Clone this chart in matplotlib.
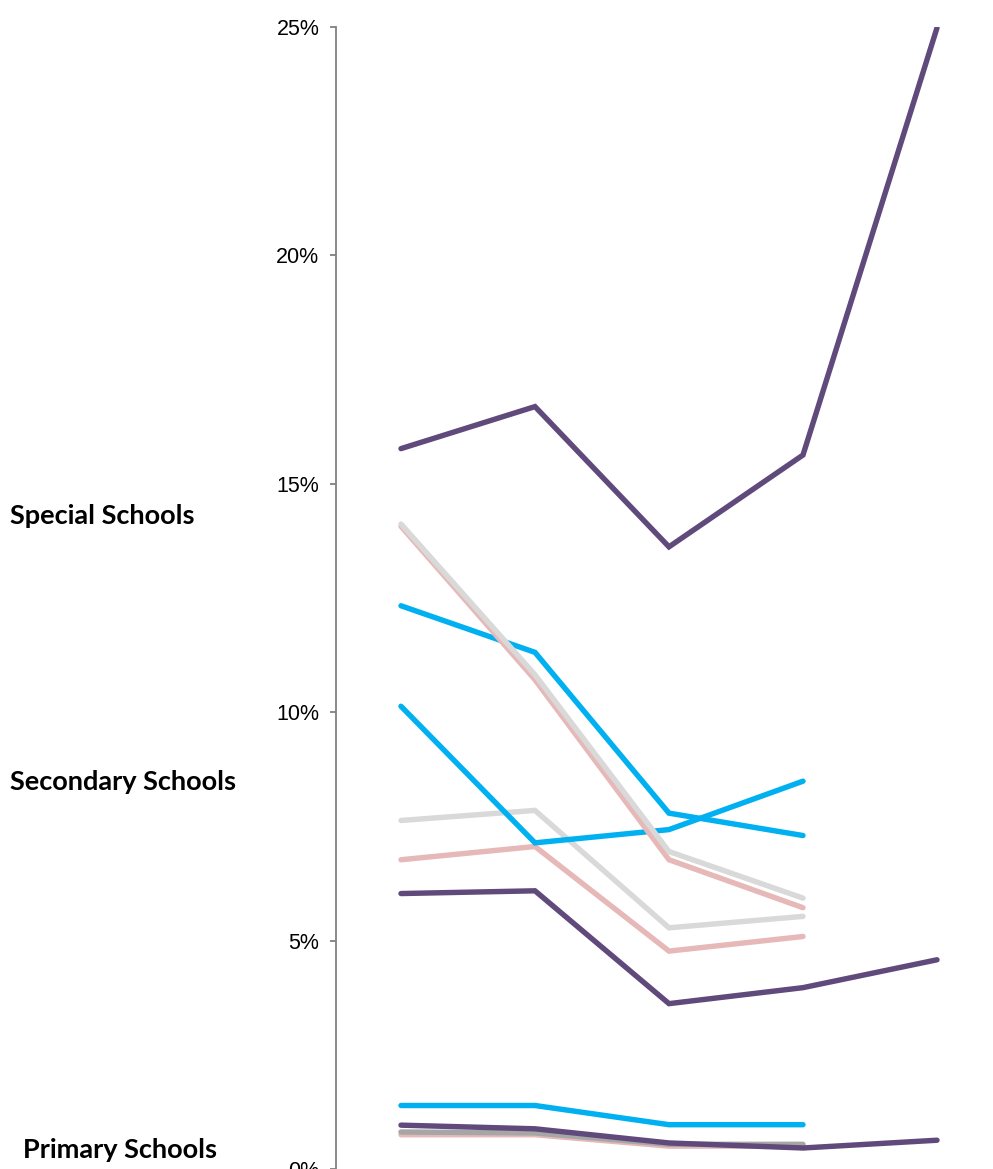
import matplotlib
matplotlib.use("Agg")
import matplotlib.pyplot as plt
from matplotlib.ticker import PercentFormatter

# Reporting periods (x positions, not labelled on the chart)
periods = ["P1", "P2", "P3", "P4", "P5"]

# Rates (%) by school phase
special_purple = [15.77, 16.69, 13.62, 15.63, 24.98]
special_blue = [12.33, 11.31, 7.79, 7.30]
special_pink = [14.07, 10.71, 6.77, 5.72]
special_grey = [14.12, 10.82, 6.95, 5.93]

secondary_purple = [6.03, 6.09, 3.62, 3.97, 4.58]
secondary_blue = [10.13, 7.14, 7.43, 8.49]
secondary_pink = [6.77, 7.06, 4.77, 5.09]
secondary_grey = [7.63, 7.85, 5.28, 5.53]

primary_purple = [0.96, 0.88, 0.57, 0.46, 0.63]
primary_blue = [1.39, 1.39, 0.97, 0.97]
primary_pink = [0.75, 0.75, 0.50, 0.50]
primary_grey = [0.81, 0.79, 0.54, 0.54]

y_ticks = [0, 5, 10, 15, 20, 25]
group_labels = ["Special Schools", "Secondary Schools", "Primary Schools"]

PURPLE = "#604A7B"
BLUE = "#00B0F0"
PINK = "#E6B9B8"
LIGHT_GREY = "#D9D9D9"
DARK_GREY = "#A6A6A6"

W, H = 993, 1169
fig = plt.figure(figsize=(W / 100, H / 100), dpi=100)

# axes spans from the y axis line to the right edge of the figure
left_px, top_px = 336, 27
ax = fig.add_axes([left_px / W, 0, 1 - left_px / W, 1 - top_px / H])

x = list(range(len(periods)))
lw = 3.9
style = dict(linewidth=lw, solid_capstyle="round", solid_joinstyle="miter")

series = [
    (primary_pink, PINK), (primary_grey, DARK_GREY), (primary_blue, BLUE), (primary_purple, PURPLE),
    (secondary_purple, PURPLE), (secondary_pink, PINK), (secondary_grey, LIGHT_GREY), (secondary_blue, BLUE),
    (special_blue, BLUE), (special_pink, PINK), (special_grey, LIGHT_GREY), (special_purple, PURPLE),
]
for vals, col in series:
    ax.plot(x[:len(vals)], vals, color=col, **style)

ax.set_xlim(-0.485, 4.418)
ax.set_ylim(0, 25)
ax.set_yticks(y_ticks)
ax.yaxis.set_major_formatter(PercentFormatter(decimals=0))
ax.set_xticks([])

for s in ["top", "right", "bottom"]:
    ax.spines[s].set_visible(False)
ax.spines["left"].set_color("#808080")
ax.spines["left"].set_linewidth(1.3)
ax.tick_params(axis="y", direction="out", length=4, width=1.3, color="#808080",
               pad=8, labelsize=15.5)
for lab in ax.get_yticklabels():
    lab.set_fontfamily("Liberation Sans")

label_pos = [(10, 516), (10, 782), (23, 1150)]
for text, (px, py) in zip(group_labels, label_pos):
    fig.text(px / W, 1 - py / H, text, fontsize=19.5, fontweight="bold",
             family="Lato", va="center", ha="left", color="black")

fig.savefig("out.png", dpi=100)
